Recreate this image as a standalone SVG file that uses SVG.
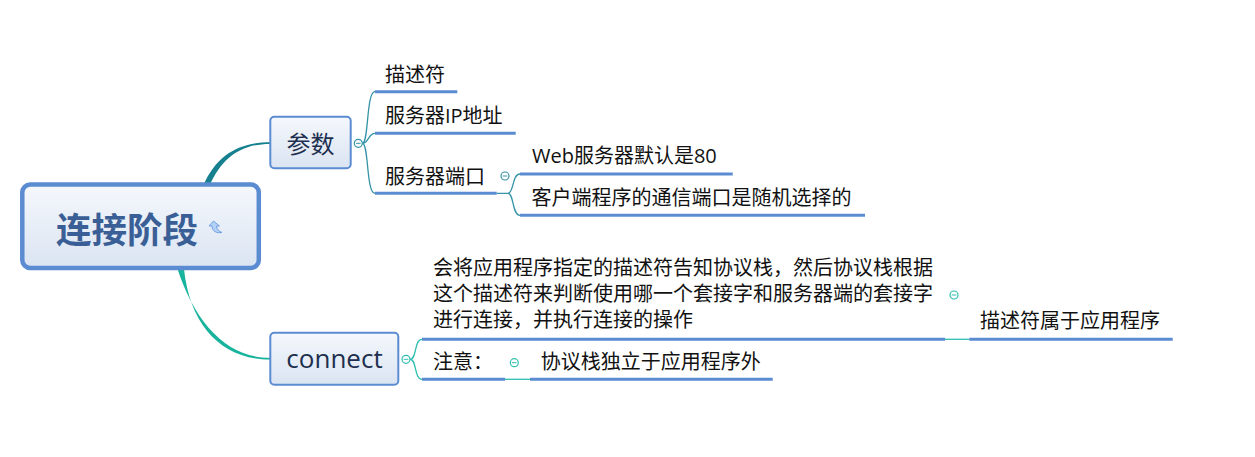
<svg xmlns="http://www.w3.org/2000/svg" width="1255" height="457" viewBox="0 0 1255 457">
<defs>
<linearGradient id="nodeFill" x1="0" y1="0" x2="0" y2="1">
<stop offset="0" stop-color="#F5F8FC"/>
<stop offset="1" stop-color="#DAE4F2"/>
</linearGradient>
<style>
.leaf{font-family:"Open Sans","Noto Sans CJK SC",sans-serif;font-size:20px;fill:#111}
.topic{font-family:"Open Sans","Noto Sans CJK SC",sans-serif;fill:#1E2F4F}
.ul{stroke:#5B8CD2;stroke-width:3;fill:none}
.b1{stroke:#3593A8;stroke-width:1.3;fill:none}
.b2{stroke:#2DBFAE;stroke-width:1.3;fill:none}
.tg1{fill:#fff;stroke:#3593A8;stroke-width:1.2}
.tg2{fill:#fff;stroke:#2DBFAE;stroke-width:1.2}
.box{fill:url(#nodeFill);stroke:#5B8CD2;stroke-width:2}
</style>
</defs>
<rect width="1255" height="457" fill="#fff"/>
<g id="connectors">
<path d="M203,186 C217,154 240,142.3 270,142.3 L270,143.9 C242,143.9 222,157 209.5,186 Z" fill="#16808F"/>
<path d="M177.5,269 C195,322 226,357.8 270,357.8 L270,359.6 C222,359.6 190,326 184,269 Z" fill="#18B39C"/>
<path class="b1" d="M362.3,143.3 C369,143.3 366,91.7 375,91.7"/>
<path class="b1" d="M362.3,143.3 C369,143.3 368,133.3 375,133.3"/>
<path class="b1" d="M362.3,143.3 C369,143.3 366,193.3 375,193.3"/>
<path class="b1" d="M496.7,193.3 L508,193.3 C514,193.3 512,174 520,174"/>
<path class="b1" d="M508,193.3 C514,193.3 512,215.3 520,215.3"/>
<path class="b2" d="M410,359.3 C417,359.3 414,339.3 422,339.3"/>
<path class="b2" d="M410,359.3 C417,359.3 414,379.3 422,379.3"/>
<path class="b2" d="M945,339.3 L969.3,339.3"/>
<path class="b2" d="M505,379.3 L530,379.3"/>
</g>
<g id="root">
<rect x="22.3" y="184.5" width="236.5" height="83.5" rx="8" fill="url(#nodeFill)" stroke="#5B8CD2" stroke-width="4.5"/>
<text x="56" y="243" font-family="'Noto Sans CJK SC',sans-serif" font-size="35.5" font-weight="700" fill="#3A5F96">连接阶段</text>
<path d="M213.5,221 L209,226 L212,226 C212,231 216,233.5 222,232.5 C218.5,231 216.5,229 216.5,226 L219.5,226 Z" fill="#B3D1F7" stroke="#6A9BDE" stroke-width="0.9" stroke-linejoin="round"/>
</g>
<g id="node-params">
<rect class="box" x="270.3" y="116.7" width="80.4" height="51.6" rx="4"/>
<text class="topic" x="310.5" y="153" font-size="24" text-anchor="middle">参数</text>
<circle class="tg1" cx="358.3" cy="143.3" r="4"/>
<line x1="356" y1="143.3" x2="360.6" y2="143.3" stroke="#3593A8" stroke-width="1"/>
</g>
<g id="node-descriptor">
<text class="leaf" x="385" y="82">描述符</text>
<line class="ul" x1="375" y1="91.7" x2="457.3" y2="91.7"/>
</g>
<g id="node-ip">
<text class="leaf" x="385" y="123">服务器IP地址</text>
<line class="ul" x1="375" y1="133.3" x2="515.7" y2="133.3"/>
</g>
<g id="node-port">
<text class="leaf" x="385" y="183.5">服务器端口</text>
<line class="ul" x1="375" y1="193.3" x2="496.7" y2="193.3"/>
<circle class="tg1" cx="505" cy="176" r="4"/>
<line x1="502.7" y1="176" x2="507.3" y2="176" stroke="#3593A8" stroke-width="1"/>
</g>
<g id="node-web">
<text class="leaf" x="532" y="163">Web服务器默认是80</text>
<line class="ul" x1="520" y1="174" x2="732.7" y2="174"/>
</g>
<g id="node-client">
<text class="leaf" x="531.5" y="205">客户端程序的通信端口是随机选择的</text>
<line class="ul" x1="520" y1="215.3" x2="865" y2="215.3"/>
</g>
<g id="node-connect">
<rect class="box" x="270.3" y="332.7" width="128" height="52" rx="4"/>
<text class="topic" x="334.5" y="368" font-size="26" text-anchor="middle">connect</text>
<circle class="tg2" cx="406" cy="359.3" r="4"/>
<line x1="403.7" y1="359.3" x2="408.3" y2="359.3" stroke="#2DBFAE" stroke-width="1"/>
</g>
<g id="node-explain">
<text class="leaf" x="433" y="275">会将应用程序指定的描述符告知协议栈，然后协议栈根据</text>
<text class="leaf" x="433" y="301">这个描述符来判断使用哪一个套接字和服务器端的套接字</text>
<text class="leaf" x="433" y="327">进行连接，并执行连接的操作</text>
<line class="ul" x1="422" y1="339.3" x2="945" y2="339.3"/>
<circle class="tg2" cx="954" cy="295" r="4"/>
<line x1="951.7" y1="295" x2="956.3" y2="295" stroke="#2DBFAE" stroke-width="1"/>
</g>
<g id="node-owner">
<text class="leaf" x="980" y="328">描述符属于应用程序</text>
<line class="ul" x1="969.3" y1="339.3" x2="1172.7" y2="339.3"/>
</g>
<g id="node-note">
<text class="leaf" x="433" y="369">注意：</text>
<line class="ul" x1="422" y1="379.3" x2="505" y2="379.3"/>
<circle class="tg2" cx="514.3" cy="362.7" r="4"/>
<line x1="512" y1="362.7" x2="516.6" y2="362.7" stroke="#2DBFAE" stroke-width="1"/>
</g>
<g id="node-independent">
<text class="leaf" x="540.7" y="369">协议栈独立于应用程序外</text>
<line class="ul" x1="530" y1="379.3" x2="772.7" y2="379.3"/>
</g>
</svg>
